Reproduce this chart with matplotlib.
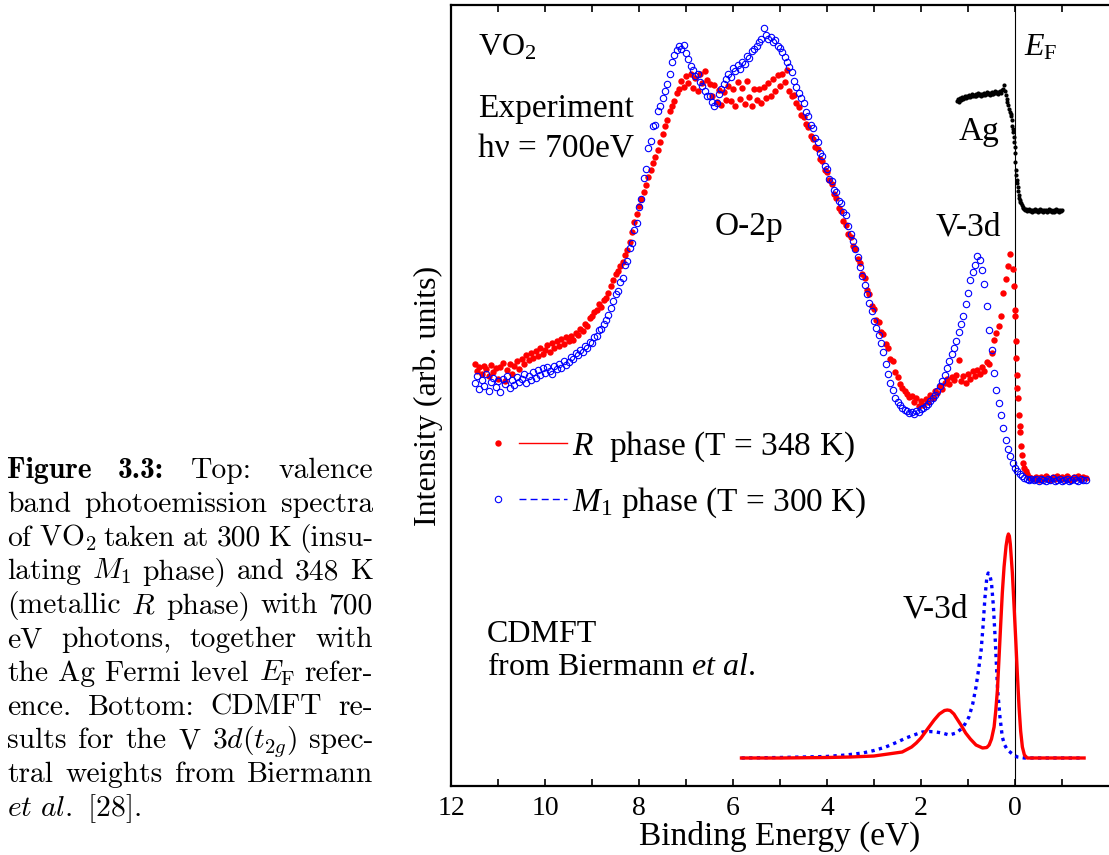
import numpy as np
import matplotlib
matplotlib.use("Agg")
import matplotlib.pyplot as plt
from matplotlib.lines import Line2D
from matplotlib.legend_handler import HandlerTuple

plt.rcParams["font.family"] = ["Liberation Serif", "DejaVu Serif"]
plt.rcParams["mathtext.fontset"] = "custom"
plt.rcParams["mathtext.rm"] = "Liberation Serif"
plt.rcParams["mathtext.it"] = "Liberation Serif:italic"
plt.rcParams["mathtext.bf"] = "Liberation Serif:bold"

# --- photoemission spectra (binding energy grid 11.50 -> -1.50 eV, 0.05 eV step)
E_GRID = np.round(np.arange(11.50, -1.5001, -0.05), 2)

R_PHASE = [
    4.22, 4.15, 4.19, 4.12, 4.20, 4.17, 4.10, 4.21, 4.14, 4.18, 4.07, 4.19, 4.23, 4.05, 4.16, 4.22, 4.12, 4.20, 4.25, 4.17,
    4.27, 4.22, 4.31, 4.26, 4.33, 4.28, 4.35, 4.30, 4.38, 4.32, 4.36, 4.41, 4.34, 4.43, 4.38, 4.45, 4.40, 4.47, 4.42, 4.49,
    4.45, 4.50, 4.46, 4.53, 4.51, 4.57, 4.55, 4.62, 4.60, 4.68, 4.70, 4.74, 4.76, 4.82, 4.79, 4.86, 4.88, 4.93, 5.00, 5.06,
    5.12, 5.15, 5.20, 5.24, 5.31, 5.36, 5.44, 5.54, 5.64, 5.72, 5.80, 5.87, 5.94, 6.01, 6.09, 6.16, 6.23, 6.29, 6.36, 6.44,
    6.52, 6.60, 6.66, 6.75, 6.80, 6.85, 6.93, 6.97, 7.05, 6.99, 7.10, 7.03, 7.12, 6.98, 7.08, 6.95, 7.12, 7.03, 7.15, 7.06,
    7.02, 6.90, 7.01, 6.84, 6.96, 6.81, 6.94, 6.86, 7.00, 6.85, 6.97, 6.80, 7.04, 6.87, 6.98, 6.82, 7.05, 6.89, 6.80, 6.97,
    6.86, 6.97, 6.83, 6.99, 6.88, 7.03, 6.90, 7.07, 6.95, 7.11, 7.00, 7.12, 7.04, 7.16, 6.95, 6.90, 6.91, 6.83, 6.79, 6.71,
    6.69, 6.62, 6.59, 6.50, 6.47, 6.39, 6.37, 6.27, 6.25, 6.16, 6.14, 6.06, 6.02, 5.92, 5.88, 5.78, 5.75, 5.65, 5.61, 5.52,
    5.49, 5.40, 5.37, 5.27, 5.23, 5.12, 5.08, 4.96, 4.92, 4.80, 4.77, 4.66, 4.64, 4.54, 4.52, 4.42, 4.38, 4.27, 4.25, 4.14,
    4.09, 4.02, 3.98, 3.95, 3.92, 3.89, 3.90, 3.84, 3.88, 3.80, 3.85, 3.81, 3.87, 3.84, 3.91, 3.88, 3.95, 3.93, 4.00, 3.97,
    4.03, 4.07, 4.02, 4.09, 4.06, 4.11, 4.26, 4.05, 4.10, 4.03, 4.12, 4.07, 4.15, 4.10, 4.16, 4.12, 4.19, 4.15, 4.24, 4.22,
    4.33, 4.46, 4.53, 4.60, 4.70, 4.93, 5.07, 5.20, 5.32, 5.17, 4.76, 3.98, 3.60, 3.31, 3.18, 3.12, 3.09, 3.08, 3.07, 3.09,
    3.06, 3.09, 3.07, 3.10, 3.08, 3.06, 3.09, 3.07, 3.10, 3.08, 3.09, 3.07, 3.10, 3.08, 3.06, 3.09, 3.08, 3.10, 3.07, 3.09,
    3.08,
]
M1_PHASE = [
    4.03, 4.10, 3.97, 4.06, 4.00, 4.12, 3.95, 4.04, 4.08, 3.99, 4.05, 3.94, 4.07, 4.02, 4.10, 3.98, 4.06, 4.01, 4.09, 4.04,
    4.07, 4.12, 4.03, 4.10, 4.06, 4.14, 4.08, 4.16, 4.11, 4.18, 4.13, 4.19, 4.15, 4.12, 4.20, 4.17, 4.22, 4.18, 4.25, 4.21,
    4.24, 4.29, 4.27, 4.33, 4.31, 4.36, 4.34, 4.40, 4.38, 4.44, 4.43, 4.49, 4.50, 4.56, 4.57, 4.62, 4.66, 4.71, 4.78, 4.85,
    4.92, 4.95, 5.04, 5.08, 5.21, 5.25, 5.38, 5.43, 5.56, 5.63, 5.79, 5.87, 6.08, 6.17, 6.38, 6.45, 6.60, 6.61, 6.75, 6.80,
    6.88, 6.95, 7.02, 7.12, 7.24, 7.31, 7.36, 7.40, 7.37, 7.41, 7.33, 7.27, 7.20, 7.16, 7.10, 7.12, 7.04, 7.00, 6.95, 6.90,
    6.90, 6.84, 6.80, 6.83, 6.92, 6.97, 7.02, 7.07, 7.12, 7.09, 7.18, 7.15, 7.21, 7.17, 7.24, 7.22, 7.30, 7.28, 7.35, 7.37,
    7.40, 7.44, 7.47, 7.58, 7.51, 7.47, 7.49, 7.44, 7.46, 7.40, 7.38, 7.34, 7.29, 7.24, 7.19, 7.14, 7.05, 6.99, 6.93, 6.88,
    6.83, 6.74, 6.70, 6.61, 6.58, 6.48, 6.44, 6.33, 6.30, 6.20, 6.17, 6.07, 6.05, 5.96, 5.94, 5.85, 5.83, 5.74, 5.71, 5.60,
    5.52, 5.45, 5.37, 5.29, 5.19, 5.10, 5.01, 4.92, 4.83, 4.75, 4.65, 4.58, 4.51, 4.43, 4.34, 4.22, 4.12, 4.03, 3.96, 3.88,
    3.84, 3.81, 3.78, 3.76, 3.75, 3.73, 3.74, 3.72, 3.75, 3.74, 3.77, 3.78, 3.80, 3.82, 3.85, 3.88, 3.91, 3.95, 4.00, 4.05,
    4.11, 4.18, 4.25, 4.32, 4.38, 4.45, 4.54, 4.62, 4.70, 4.82, 4.93, 5.06, 5.14, 5.21, 5.30, 5.26, 5.16, 5.02, 4.80, 4.56,
    4.36, 4.13, 3.96, 3.83, 3.71, 3.58, 3.46, 3.37, 3.30, 3.23, 3.18, 3.15, 3.12, 3.10, 3.08, 3.07, 3.06, 3.07, 3.06, 3.07,
    3.05, 3.07, 3.06, 3.05, 3.07, 3.06, 3.08, 3.05, 3.06, 3.07, 3.05, 3.06, 3.07, 3.05, 3.06, 3.08, 3.06, 3.05, 3.07, 3.06,
    3.06,
]
# extra points measured on the R-phase Fermi edge
R_EDGE_E = [0.02, -0.01, -0.02, -0.03, -0.04, -0.065, -0.085, -0.105, -0.125, -0.17, -0.23]
R_EDGE_I = [5.00, 4.70, 4.45, 4.28, 4.11, 3.88, 3.71, 3.54, 3.40, 3.23, 3.15]

# Ag Fermi-edge reference (1.24 -> -1.00 eV, 0.02 eV step) + extra edge points
AG_E = np.round(np.arange(1.24, -1.0001, -0.02), 2)
AG_I = [
    6.85, 6.87, 6.84, 6.86, 6.88, 6.86, 6.89, 6.87, 6.88, 6.90,
    6.88, 6.90, 6.89, 6.91, 6.89, 6.90, 6.92, 6.90, 6.91, 6.90,
    6.92, 6.90, 6.91, 6.93, 6.91, 6.92, 6.90, 6.92, 6.91, 6.93,
    6.91, 6.92, 6.94, 6.92, 6.93, 6.91, 6.93, 6.92, 6.94, 6.92,
    6.93, 6.95, 6.93, 6.94, 6.92, 6.94, 6.95, 6.93, 6.96, 6.97,
    7.01, 6.95, 6.91, 6.87, 6.84, 6.81, 6.77, 6.74, 6.70, 6.60,
    6.54, 6.44, 6.33, 6.16, 6.06, 5.99, 5.91, 5.86, 5.83, 5.81,
    5.79, 5.78, 5.77, 5.76, 5.77, 5.75, 5.76, 5.77, 5.75, 5.76,
    5.74, 5.76, 5.75, 5.77, 5.75, 5.76, 5.74, 5.76, 5.75, 5.77,
    5.75, 5.76, 5.74, 5.76, 5.75, 5.76, 5.74, 5.75, 5.77, 5.75,
    5.76, 5.74, 5.75, 5.76, 5.74, 5.75, 5.77, 5.75, 5.76, 5.74,
    5.76, 5.75, 5.76,
]
AG_EDGE_E = [0.09, 0.07, 0.05, 0.03, 0.01, -0.01, -0.03, -0.05, -0.07, -0.09, -0.11]
AG_EDGE_I = [6.72, 6.66, 6.57, 6.49, 6.39, 6.24, 6.11, 6.03, 5.95, 5.88, 5.84]

# CDMFT V 3d(t2g) spectral weights
CD_R_E = [5.82, 5.0, 4.0, 3.5, 3.0, 2.7, 2.4, 2.2, 2.1, 2.0, 1.83, 1.72, 1.61, 1.5, 1.44, 1.38,
          1.3, 1.26, 1.15, 1.05, 0.95, 0.83, 0.69, 0.6, 0.55, 0.5, 0.445, 0.41, 0.374, 0.34,
          0.303, 0.27, 0.233, 0.19, 0.16, 0.14, 0.12, 0.10, 0.056, 0.02, -0.016, -0.05,
          -0.086, -0.12, -0.157, -0.2, -0.26, -0.4, -1.0, -1.47]
CD_R_I = [0.28, 0.28, 0.285, 0.29, 0.30, 0.32, 0.34, 0.39, 0.43, 0.48, 0.59, 0.66, 0.72, 0.755, 0.76, 0.755,
          0.72, 0.69, 0.61, 0.53, 0.47, 0.41, 0.38, 0.385, 0.41, 0.47, 0.59, 0.75, 0.96, 1.28,
          1.63, 1.93, 2.19, 2.40, 2.49, 2.52, 2.50, 2.42, 2.13, 1.80, 1.46, 1.12,
          0.79, 0.55, 0.39, 0.31, 0.28, 0.28, 0.28, 0.28]
CD_M1_E = [5.82, 5.0, 4.5, 4.02, 3.6, 3.24, 3.0, 2.75, 2.5, 2.32, 2.15, 1.97, 1.82, 1.68, 1.55, 1.40,
           1.25, 1.12, 1.05, 0.98, 0.90, 0.83, 0.77, 0.72, 0.68, 0.64, 0.60, 0.57, 0.54, 0.50,
           0.46, 0.42, 0.37, 0.32, 0.27, 0.22, 0.16, 0.08, 0.02, -0.05, -0.2, -1.0, -1.47]
CD_M1_I = [0.28, 0.285, 0.29, 0.295, 0.31, 0.33, 0.355, 0.39, 0.44, 0.48, 0.51, 0.54, 0.545, 0.54, 0.53, 0.51,
           0.53, 0.58, 0.63, 0.69, 0.82, 0.99, 1.18, 1.36, 1.60, 1.88, 2.08, 2.13, 2.12, 2.03,
           1.80, 1.46, 0.96, 0.69, 0.49, 0.41, 0.36, 0.33, 0.31, 0.29, 0.28, 0.28, 0.28]

XTICKS = [12, 10, 8, 6, 4, 2, 0]
XMINOR = [11, 9, 7, 5, 3, 1, -1]
LEGEND_LABELS = [r"$R$  phase (T = 348 K)", r"$M_1$ phase (T = 300 K)"]

CAPTION = [
    "Figure 3.3: Top: valence",
    "band photoemission spectra",
    "of VO$_2$ taken at 300 K (insu-",
    "lating $M_1$ phase) and 348 K",
    "(metallic $R$ phase) with 700",
    "eV photons, together with",
    r"the Ag Fermi level $E_\mathrm{F}$ refer-",
    "ence. Bottom: CDMFT re-",
    "sults for the V $3d(t_{2g})$ spec-",
    "tral weights from Biermann",
    r"$\mathit{et\ al.}$ [28].",
]

assert len(R_PHASE) == len(E_GRID) and len(M1_PHASE) == len(E_GRID)
assert len(AG_I) == len(AG_E)
assert len(CD_R_E) == len(CD_R_I) and len(CD_M1_E) == len(CD_M1_I)

W, H = 1109, 855
fig = plt.figure(figsize=(W / 100, H / 100), dpi=100)
ax = fig.add_axes([451 / W, (H - 786) / H, 1 - 451 / W, 781 / H])

ax.plot(E_GRID, R_PHASE, ls="none", marker="o", ms=4.6, color="red", mec="red", mew=0, zorder=3)
ax.plot(R_EDGE_E, R_EDGE_I, ls="none", marker="o", ms=4.6, color="red", mec="red", mew=0, zorder=3)
ax.plot(E_GRID, M1_PHASE, ls="none", marker="o", ms=4.6, mfc="none", mec="blue", mew=0.8, zorder=4)
ax.plot(AG_E, AG_I, ls="none", marker="o", ms=3.0, color="black", mew=0, zorder=3)
ax.plot(AG_EDGE_E, AG_EDGE_I, ls="none", marker="o", ms=3.0, color="black", mew=0, zorder=3)

ax.plot(CD_M1_E, CD_M1_I, color="blue", lw=2.4, ls=(0, (1, 1.3)), zorder=3)
ax.plot(CD_R_E, CD_R_I, color="red", lw=2.4, zorder=4)
ax.axvline(0, color="black", lw=0.8, zorder=2)

ax.set_xlim(12, -2)
ax.set_ylim(0, 7.81)
ax.set_xticks(XTICKS)
ax.set_xticklabels([str(t) for t in XTICKS])
ax.set_xticks(XMINOR, minor=True)
ax.set_yticks([])
ax.tick_params(axis="x", which="both", direction="in", top=True, bottom=True,
               length=5, width=1.2, labelsize=20, pad=7)
for side in ("left", "bottom", "top"):
    ax.spines[side].set_linewidth(1.6)
ax.spines["right"].set_visible(False)

ax.set_xlabel("Binding Energy (eV)", fontsize=24, labelpad=0)
ax.set_ylabel("Intensity (arb. units)", fontsize=23, labelpad=6)

ax.text(11.43, 7.31, "VO$_2$", fontsize=23)
ax.text(-0.19, 7.31, r"$E_\mathrm{F}$", fontsize=23)
ax.text(11.43, 6.69, "Experiment", fontsize=24)
ax.text(11.43, 6.29, "h\u03bd = 700eV", fontsize=24)
ax.text(1.19, 6.46, "Ag", fontsize=24)
ax.text(6.39, 5.51, "O-2p", fontsize=24)
ax.text(1.68, 5.51, "V-3d", fontsize=24)
ax.text(2.40, 1.69, "V-3d", fontsize=24)
ax.text(11.24, 1.44, "CDMFT", fontsize=23)
ax.text(11.24, 1.11, r"from Biermann $\mathit{et\ al.}$", fontsize=23)

r_mk = Line2D([], [], ls="none", marker="o", ms=4.6, color="red", mew=0)
r_ln = Line2D([], [], color="red", lw=1.0)
b_mk = Line2D([], [], ls="none", marker="o", ms=4.6, mfc="none", mec="blue", mew=0.8)
b_ln = Line2D([], [], color="blue", lw=1.0, ls=(0, (5, 3)))
ax.legend([(r_mk, r_ln), (b_mk, b_ln)], LEGEND_LABELS,
          handler_map={tuple: HandlerTuple(ndivide=None, pad=-0.12)},
          loc="upper left", bbox_to_anchor=(0.035, 0.456), frameon=False,
          fontsize=24, handlelength=2.8, handletextpad=0.15, borderpad=0,
          borderaxespad=0, labelspacing=0.63)

# justified caption on the left
CAP_X0, CAP_X1, CAP_Y0, CAP_DY, CAP_FS = 7, 373, 478, 33.8, 21.3
fig.canvas.draw()
renderer = fig.canvas.get_renderer()
for i, line in enumerate(CAPTION):
    y = 1 - (CAP_Y0 + i * CAP_DY) / H
    if i == len(CAPTION) - 1:
        fig.text(CAP_X0 / W, y, line, fontfamily="cmr10", fontsize=CAP_FS,
                 math_fontfamily="cm", va="baseline")
        continue
    words = line.split(" ")
    arts = []
    for j, w in enumerate(words):
        fam = "cmb10" if (i == 0 and j < 2) else "cmr10"
        arts.append(fig.text(0, y, w, fontfamily=fam, fontsize=CAP_FS,
                             math_fontfamily="cm", va="baseline"))
    widths = [a.get_window_extent(renderer).width for a in arts]
    gap = (CAP_X1 - CAP_X0 - sum(widths)) / (len(arts) - 1)
    x = CAP_X0
    for a, wd in zip(arts, widths):
        a.set_x(x / W)
        x += wd + gap

fig.savefig("out.png", dpi=100)
